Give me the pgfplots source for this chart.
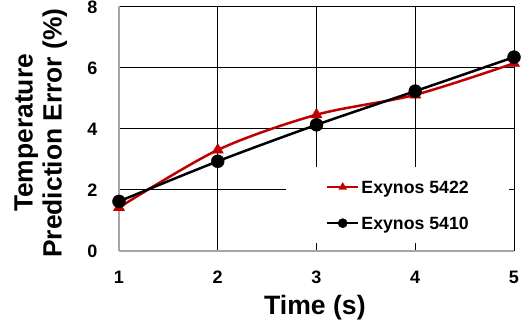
\documentclass[border=0pt]{standalone}
\usepackage{fontspec}
\setmainfont{Liberation Sans}
\usepackage{pgfplots}
\pgfplotsset{compat=1.18}
\definecolor{exred}{RGB}{192,0,0}
\definecolor{axgray}{RGB}{166,166,166}
\pgfplotsset{
  exlegend/.style={legend image code/.code={
    \path[draw=none, fill=none] (-41bp,-18bp) rectangle (0bp,18bp);
    \draw[mark repeat=2, mark phase=2, ##1, mark size=4.6bp] plot coordinates {(0bp,0bp) (15.5bp,0bp) (31bp,0bp)};
  }}
}
\begin{document}
\begin{tikzpicture}
\path[use as bounding box] (-119bp,-77bp) rectangle (410bp,251bp);
\begin{axis}[
  at={(0,0)}, anchor=south west,
  scale only axis, width=395bp, height=245bp,
  xmin=1, xmax=5, ymin=0, ymax=8,
  xtick={1,2,3,4,5}, ytick={0,2,4,6,8},
  minor xtick={2,3,4,5}, minor ytick={2,4,6,8},
  xminorgrids=true, yminorgrids=true,
  minor grid style={black, line width=1bp},
  major tick length=0pt, minor tick length=0pt,
  axis x line*=bottom, axis y line*=left,
  axis line style={axgray, line width=1.3bp, -},
  /pgf/number format/assume math mode=true,
  tick label style={font=\bfseries\fontsize{18bp}{20bp}\selectfont, inner sep=0pt},
  xticklabel style={anchor=base, yshift=-32bp},
  yticklabel style={anchor=east, xshift=-21.4bp, yshift=-0.8bp},
  xlabel={Time (s)},
  xlabel style={at={(axis description cs:0.496,-0.2612)}, anchor=base, inner sep=0pt,
    font=\bfseries\fontsize{26.6bp}{29bp}\selectfont},
  ylabel={Temperature\\Prediction Error (\%)},
  ylabel style={at={(axis description cs:-0.1306,0.4816)}, anchor=south, rotate=0, inner sep=0pt, align=center,
    font=\bfseries\fontsize{26.4bp}{29bp}\selectfont},
  legend cell align=left,
  legend style={at={(0.4228,0.3429)}, anchor=north west, draw=none, fill=white,
    inner xsep=0pt, inner ysep=2bp, row sep=0pt, column sep=2bp,
    nodes={inner sep=0pt, text depth=0pt, font=\bfseries\fontsize{17.7bp}{20bp}\selectfont}},
]
\addplot[exred, line width=2.5bp, smooth, tension=0.5, mark=triangle*, mark size=6.5bp,
  mark options={solid, fill=exred, draw=exred, line width=0.4bp}, exlegend] coordinates {
  (1,1.42) (2,3.30) (3,4.45) (4,5.10) (5,6.13)
};
\addlegendentry{Exynos 5422\hspace*{40bp}}
\addplot[black, line width=2.5bp, smooth, tension=0.5, mark=*, mark size=6.5bp,
  mark options={solid, fill=black, draw=black, line width=0.4bp}, exlegend] coordinates {
  (1,1.62) (2,2.93) (3,4.12) (4,5.22) (5,6.33)
};
\addlegendentry{Exynos 5410\hspace*{40bp}}
\end{axis}
\end{tikzpicture}
\end{document}
